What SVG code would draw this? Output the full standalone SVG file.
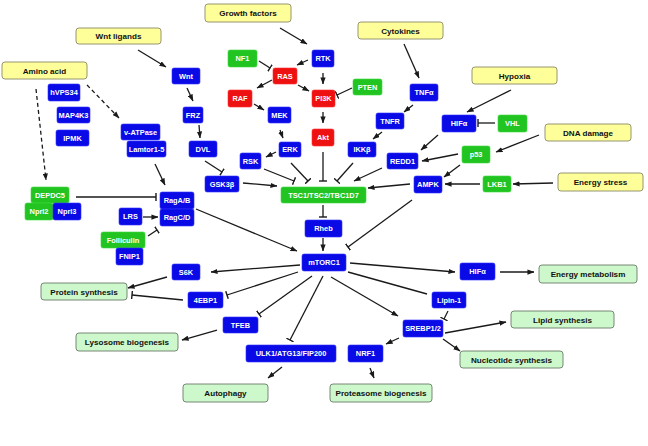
<svg xmlns="http://www.w3.org/2000/svg" width="648" height="446" viewBox="0 0 648 446">
<style>
text{font-family:"Liberation Sans",Arial,sans-serif;font-weight:bold;text-anchor:middle}
.b rect{fill:#0a0ae6;stroke:#3030ff;stroke-width:0.6}
.g rect{fill:#22c422;stroke:#3cd83c;stroke-width:0.6}
.r rect{fill:#ee1111;stroke:#ff3030;stroke-width:0.6}
.b text,.g text,.r text{fill:#fff;font-size:7.4px}
.y rect{fill:#ffff99;stroke:#8a8a6a;stroke-width:0.9}
.o rect{fill:#ccf8cc;stroke:#6a7a6a;stroke-width:0.9}
.y text,.o text{fill:#111;font-size:8.1px}
#edges line{stroke:#1a1a1a;stroke-width:1.3;fill:none}
#edges .a{marker-end:url(#arr)}
#edges .t{marker-end:url(#tee)}
#edges .d{stroke-dasharray:4,3}
</style>
<defs>
<marker id="arr" viewBox="0 0 8 6" refX="7.5" refY="3" markerWidth="7" markerHeight="5.5" orient="auto" markerUnits="userSpaceOnUse"><path d="M0,0 L8,3 L0,6 z" fill="#1a1a1a"/></marker>
<marker id="tee" viewBox="0 0 2 8" refX="1" refY="4" markerWidth="2" markerHeight="8" orient="auto" markerUnits="userSpaceOnUse"><path d="M1,0 L1,8" stroke="#1a1a1a" stroke-width="1.4"/></marker>
</defs>
<rect width="648" height="446" fill="#fff"/>

<g id="edges">
<line class="a" x1="280" y1="28" x2="307" y2="44"/>
<line class="a" x1="308" y1="60" x2="297" y2="65"/>
<line class="t" x1="259" y1="61" x2="270" y2="68"/>
<line class="a" x1="323" y1="73" x2="323" y2="84"/>
<line class="a" x1="298" y1="85" x2="309" y2="91"/>
<line class="t" x1="352" y1="88" x2="337" y2="95"/>
<line class="a" x1="272" y1="80" x2="257" y2="88"/>
<line class="a" x1="254" y1="104" x2="264" y2="110"/>
<line class="a" x1="280" y1="130" x2="283" y2="138"/>
<line class="a" x1="323" y1="112" x2="323" y2="123"/>
<line class="a" x1="404" y1="44" x2="419" y2="78"/>
<line class="a" x1="413" y1="105" x2="404" y2="112"/>
<line class="a" x1="382" y1="132" x2="373" y2="139"/>
<line class="a" x1="138" y1="50" x2="166" y2="67"/>
<line class="a" x1="187" y1="88" x2="193" y2="101"/>
<line class="a" x1="199" y1="125" x2="200" y2="138"/>
<line class="a d" x1="87" y1="85" x2="119" y2="118"/>
<line class="a d" x1="36" y1="89" x2="46" y2="180"/>
<line class="a" x1="155" y1="164" x2="165" y2="185"/>
<line class="t" x1="76" y1="197" x2="156" y2="197"/>
<line class="a" x1="143" y1="217" x2="158" y2="217"/>
<line class="t" x1="148" y1="236" x2="157" y2="230"/>
<line class="a" x1="196" y1="209" x2="297" y2="251"/>
<line class="t" x1="205" y1="161" x2="222" y2="172"/>
<line class="a" x1="243" y1="183" x2="277" y2="186"/>
<line class="t" x1="264" y1="169" x2="294" y2="181"/>
<line class="t" x1="291" y1="163" x2="308" y2="181"/>
<line class="a" x1="276" y1="152" x2="266" y2="157"/>
<line class="t" x1="323" y1="152" x2="323" y2="181"/>
<line class="t" x1="353" y1="163" x2="337" y2="181"/>
<line class="a" x1="382" y1="168" x2="354" y2="181"/>
<line class="a" x1="410" y1="184" x2="368" y2="188"/>
<line class="t" x1="323" y1="205" x2="323" y2="217"/>
<line class="a" x1="323" y1="238" x2="323" y2="251"/>
<line class="t" x1="412" y1="200" x2="348" y2="247"/>
<line class="a" x1="511" y1="90" x2="467" y2="112"/>
<line class="t" x1="495" y1="123" x2="478" y2="123"/>
<line class="a" x1="438" y1="135" x2="421" y2="150"/>
<line class="a" x1="539" y1="135" x2="496" y2="152"/>
<line class="a" x1="458" y1="154" x2="422" y2="161"/>
<line class="a" x1="460" y1="165" x2="444" y2="177"/>
<line class="a" x1="480" y1="184" x2="445" y2="184"/>
<line class="a" x1="553" y1="183" x2="513" y2="184"/>
<line class="a" x1="350" y1="263" x2="455" y2="272"/>
<line class="a" x1="500" y1="272" x2="534" y2="272"/>
<line class="a" x1="300" y1="265" x2="211" y2="272"/>
<line class="a" x1="167" y1="277" x2="128" y2="288"/>
<line class="t" x1="298" y1="272" x2="227" y2="295"/>
<line class="t" x1="183" y1="300" x2="132" y2="295"/>
<line class="t" x1="312" y1="276" x2="259" y2="314"/>
<line class="a" x1="217" y1="330" x2="182" y2="340"/>
<line class="t" x1="323" y1="276" x2="290" y2="340"/>
<line class="a" x1="282" y1="367" x2="268" y2="378"/>
<line class="a" x1="370" y1="368" x2="374" y2="378"/>
<line class="a" x1="399" y1="338" x2="386" y2="344"/>
<line class="a" x1="331" y1="277" x2="398" y2="316"/>
<line x1="348" y1="272" x2="427" y2="294"/>
<line class="t" x1="448" y1="311" x2="444" y2="319"/>
<line class="a" x1="445" y1="333" x2="506" y2="322"/>
<line class="a" x1="443" y1="339" x2="460" y2="351"/>
</g>

<g id="growth" class="y"><rect x="205" y="4" width="86" height="18" rx="3"/><text x="248" y="16">Growth factors</text></g>
<g id="wntligands" class="y"><rect x="76" y="28" width="85" height="16" rx="3"/><text x="118.5" y="39">Wnt ligands</text></g>
<g id="aminoacid" class="y"><rect x="2" y="62" width="85" height="17" rx="3"/><text x="44.5" y="73.5">Amino acid</text></g>
<g id="cytokines" class="y"><rect x="358" y="22" width="85" height="17" rx="3"/><text x="400.5" y="33.5">Cytokines</text></g>
<g id="hypoxia" class="y"><rect x="472" y="67" width="85" height="17" rx="3"/><text x="514.5" y="78.5">Hypoxia</text></g>
<g id="dnadamage" class="y"><rect x="545" y="124" width="86" height="17" rx="3"/><text x="588" y="135.5">DNA damage</text></g>
<g id="energystress" class="y"><rect x="558" y="173" width="85" height="18" rx="3"/><text x="600.5" y="185">Energy stress</text></g>

<g id="energymetabolism" class="o"><rect x="539" y="265" width="98" height="18" rx="3"/><text x="588" y="277">Energy metabolism</text></g>
<g id="proteinsynthesis" class="o"><rect x="41" y="283" width="86" height="17" rx="3"/><text x="84" y="294.5">Protein synthesis</text></g>
<g id="lysosome" class="o"><rect x="76" y="333" width="102" height="18" rx="3"/><text x="127" y="345">Lysosome biogenesis</text></g>
<g id="autophagy" class="o"><rect x="183" y="384" width="85" height="18" rx="3"/><text x="225.5" y="396">Autophagy</text></g>
<g id="proteasome" class="o"><rect x="330" y="384" width="102" height="18" rx="3"/><text x="381" y="396">Proteasome biogenesis</text></g>
<g id="lipid" class="o"><rect x="511" y="311" width="103" height="17" rx="3"/><text x="562.5" y="322.5">Lipid synthesis</text></g>
<g id="nucleotide" class="o"><rect x="460" y="351" width="103" height="17" rx="3"/><text x="511.5" y="362.5">Nucleotide synthesis</text></g>

<g id="wnt" class="b"><rect x="172" y="68" width="28" height="16" rx="2"/><text x="186" y="78.6">Wnt</text></g>
<g id="frz" class="b"><rect x="183" y="107" width="20" height="16" rx="2"/><text x="193" y="117.6">FRZ</text></g>
<g id="dvl" class="b"><rect x="189" y="141" width="28" height="16" rx="2"/><text x="203" y="151.6">DVL</text></g>
<g id="hvps34" class="b"><rect x="48" y="84" width="32" height="17" rx="2"/><text x="64" y="95">hVPS34</text></g>
<g id="map4k3" class="b"><rect x="57" y="107" width="33" height="16" rx="2"/><text x="73.5" y="117.6">MAP4K3</text></g>
<g id="ipmk" class="b"><rect x="56" y="130" width="33" height="16" rx="2"/><text x="72.5" y="140.6">IPMK</text></g>
<g id="vatpase" class="b"><rect x="121" y="124" width="39" height="16" rx="2"/><text x="140.5" y="134.6">v-ATPase</text></g>
<g id="lamtor" class="b"><rect x="127" y="141" width="39" height="16" rx="2"/><text x="146.5" y="151.6">Lamtor1-5</text></g>
<g id="depdc5" class="g"><rect x="31" y="187" width="38" height="16" rx="2"/><text x="50" y="197.6">DEPDC5</text></g>
<g id="nprl2" class="g"><rect x="25" y="203" width="28" height="17" rx="2"/><text x="39" y="214">Nprl2</text></g>
<g id="nprl3" class="b"><rect x="53" y="203" width="28" height="17" rx="2"/><text x="67" y="214">Nprl3</text></g>
<g id="ragab" class="b"><rect x="160" y="192" width="34" height="17" rx="2"/><text x="177" y="203">RagA/B</text></g>
<g id="ragcd" class="b"><rect x="160" y="209" width="34" height="17" rx="2"/><text x="177" y="220">RagC/D</text></g>
<g id="lrs" class="b"><rect x="119" y="208" width="23" height="17" rx="2"/><text x="130.5" y="219">LRS</text></g>
<g id="folliculin" class="g"><rect x="101" y="232" width="44" height="16" rx="2"/><text x="123" y="242.6">Folliculin</text></g>
<g id="fnip1" class="b"><rect x="116" y="248" width="27" height="17" rx="2"/><text x="129.5" y="259">FNIP1</text></g>
<g id="s6k" class="b"><rect x="172" y="264" width="28" height="16" rx="2"/><text x="186" y="274.6">S6K</text></g>
<g id="4ebp1" class="b"><rect x="188" y="292" width="35" height="16" rx="2"/><text x="205.5" y="302.6">4EBP1</text></g>
<g id="tfeb" class="b"><rect x="223" y="317" width="35" height="16" rx="2"/><text x="240.5" y="327.6">TFEB</text></g>
<g id="ulk1" class="b"><rect x="246" y="345" width="90" height="17" rx="2"/><text x="291" y="356">ULK1/ATG13/FIP200</text></g>
<g id="nrf1" class="b"><rect x="348" y="345" width="35" height="17" rx="2"/><text x="365.5" y="356">NRF1</text></g>
<g id="srebp" class="b"><rect x="403" y="320" width="40" height="17" rx="2"/><text x="423" y="331">SREBP1/2</text></g>
<g id="lipin1" class="b"><rect x="432" y="292" width="34" height="16" rx="2"/><text x="449" y="302.6">Lipin-1</text></g>
<g id="hifa2" class="b"><rect x="460" y="263" width="35" height="17" rx="2"/><text x="477.5" y="274">HIFα</text></g>
<g id="mtorc1" class="b"><rect x="302" y="254" width="44" height="17" rx="2"/><text x="324" y="265">mTORC1</text></g>
<g id="rheb" class="b"><rect x="305" y="220" width="37" height="17" rx="2"/><text x="323.5" y="231">Rheb</text></g>
<g id="tsc" class="g"><rect x="281" y="187" width="85" height="16" rx="2"/><text x="323.5" y="197.6">TSC1/TSC2/TBC1D7</text></g>
<g id="gsk3b" class="b"><rect x="205" y="176" width="34" height="16" rx="2"/><text x="222" y="186.6">GSK3β</text></g>
<g id="rsk" class="b"><rect x="240" y="153" width="21" height="16" rx="2"/><text x="250.5" y="163.6">RSK</text></g>
<g id="erk" class="b"><rect x="279" y="142" width="22" height="15" rx="2"/><text x="290" y="152.2">ERK</text></g>
<g id="ikkb" class="b"><rect x="348" y="142" width="28" height="15" rx="2"/><text x="362" y="152.2">IKKβ</text></g>
<g id="redd1" class="b"><rect x="387" y="153" width="31" height="16" rx="2"/><text x="402.5" y="163.6">REDD1</text></g>
<g id="ampk" class="b"><rect x="414" y="176" width="28" height="17" rx="2"/><text x="428" y="187">AMPK</text></g>
<g id="p53" class="g"><rect x="462" y="146" width="28" height="17" rx="2"/><text x="476" y="157">p53</text></g>
<g id="lkb1" class="g"><rect x="483" y="176" width="28" height="16" rx="2"/><text x="497" y="186.6">LKB1</text></g>
<g id="hifa1" class="b"><rect x="442" y="115" width="34" height="17" rx="2"/><text x="459" y="126">HIFα</text></g>
<g id="vhl" class="g"><rect x="498" y="115" width="29" height="17" rx="2"/><text x="512.5" y="126">VHL</text></g>
<g id="tnfa" class="b"><rect x="410" y="84" width="28" height="17" rx="2"/><text x="424" y="95">TNFα</text></g>
<g id="tnfr" class="b"><rect x="376" y="113" width="28" height="16" rx="2"/><text x="390" y="123.6">TNFR</text></g>
<g id="rtk" class="b"><rect x="312" y="50" width="22" height="17" rx="2"/><text x="323" y="61">RTK</text></g>
<g id="mek" class="b"><rect x="268" y="107" width="23" height="16" rx="2"/><text x="279.5" y="117.6">MEK</text></g>
<g id="nf1" class="g"><rect x="228" y="50" width="29" height="17" rx="2"/><text x="242.5" y="61">NF1</text></g>
<g id="pten" class="g"><rect x="353" y="79" width="29" height="16" rx="2"/><text x="367.5" y="89.6">PTEN</text></g>
<g id="ras" class="r"><rect x="273" y="68" width="24" height="16" rx="2"/><text x="285" y="78.6">RAS</text></g>
<g id="pi3k" class="r"><rect x="312" y="90" width="23" height="17" rx="2"/><text x="323.5" y="101">PI3K</text></g>
<g id="raf" class="r"><rect x="228" y="90" width="24" height="17" rx="2"/><text x="240" y="101">RAF</text></g>
<g id="akt" class="r"><rect x="312" y="129" width="22" height="17" rx="2"/><text x="323" y="140">Akt</text></g>
</svg>
